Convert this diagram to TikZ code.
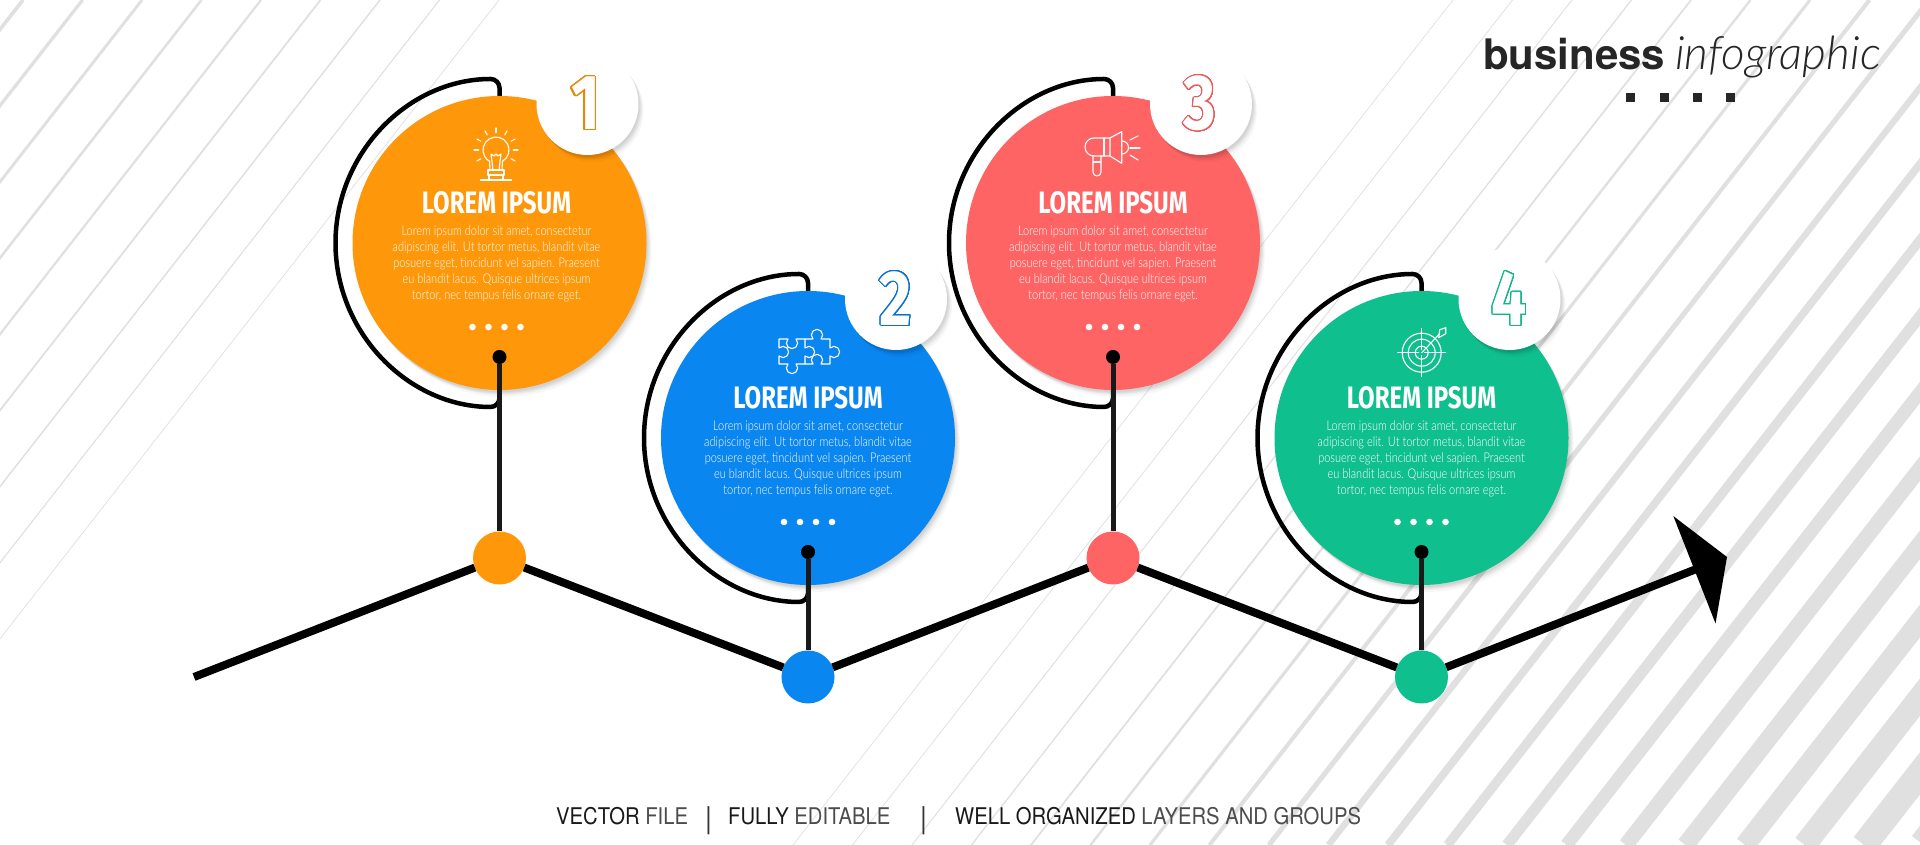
\documentclass[tikz,border=0pt]{standalone}
\usepackage{fontspec}
\usepackage{contour}
\usetikzlibrary{arrows.meta,shadows,backgrounds}
\setmainfont{Lato}
\newfontfamily\headfont[FakeStretch=0.775]{Fira Sans}
\newfontfamily\numfont[FakeStretch=0.8]{Fira Sans}
\newfontfamily\bodyfont[FakeStretch=0.82]{Lato Light}
\newfontfamily\lightfont{Lato Light}
\newfontfamily\titlefont{TeX Gyre Heros}
\newfontfamily\footfont[FakeStretch=0.88]{TeX Gyre Heros}
\contourlength{1.1pt}
\contournumber{32}
\definecolor{orangefill}{HTML}{FF970A}
\definecolor{bluefill}{HTML}{0A86F0}
\definecolor{redfill}{HTML}{FF6464}
\definecolor{greenfill}{HTML}{10BF8E}
\definecolor{stripegray}{HTML}{E0E0E0}
\newcommand{\loremtext}{Lorem ipsum dolor sit amet, consectetur\\adipiscing elit. Ut tortor metus, blandit vitae\\posuere eget, tincidunt vel sapien. Praesent\\eu blandit lacus. Quisque ultrices ipsum\\tortor, nec tempus felis ornare eget.}
\tikzset{
    softshadow/.style={general shadow={shadow xshift=1pt,shadow yshift=-2pt,fill=black,opacity=.04},
        general shadow={shadow xshift=2pt,shadow yshift=-3pt,fill=black,opacity=.04},
        general shadow={shadow xshift=3pt,shadow yshift=-4pt,fill=black,opacity=.04},
        general shadow={shadow xshift=4pt,shadow yshift=-5pt,fill=black,opacity=.03},
        general shadow={shadow xshift=5pt,shadow yshift=-7pt,fill=black,opacity=.03}},
    bubble/.style={circle,minimum size=294pt,inner sep=0pt,outer sep=0pt,softshadow},
    badge/.style={circle,fill=white,minimum size=102pt,inner sep=0pt,outer sep=0pt,softshadow},
    joint/.style={circle,minimum size=53pt,inner sep=0pt,outer sep=0pt},
    stemdot/.style={circle,fill=black,minimum size=14pt,inner sep=0pt,outer sep=0pt},
    stem/.style={line width=5pt,black!90},
    ringline/.style={line width=4.5pt,black,rounded corners=9pt},
    zigzag/.style={line width=8pt,black},
    heading/.style={text=white,font=\headfont\bfseries\fontsize{31}{33}\selectfont},
    bodytext/.style={text=white,align=center,font=\bodyfont\fontsize{13.4}{15.9}\selectfont},
    numlabel/.style={text=white,font=\numfont\bfseries\fontsize{78}{78}\selectfont},
    iconline/.style={draw=white,line width=1.1pt,line join=round,line cap=round},
    foottext/.style={anchor=base west,inner sep=0pt,font=\footfont\fontsize{23}{25}\selectfont},
    footbar/.style={anchor=base west,inner sep=0pt,text=black!80,font=\footfont\fontsize{30}{32}\selectfont},
}
\begin{document}
\begin{tikzpicture}[x=1pt,y=1pt]
    \useasboundingbox (0,0) rectangle (1920,845);
    % circles
    \node[bubble,fill=orangefill](c1) at (499.5,602){};
    \node[bubble,fill=bluefill](c2) at (808,407){};
    \node[bubble,fill=redfill](c3) at (1113,602){};
    \node[bubble,fill=greenfill](c4) at (1421.5,407){};
    \begin{pgfonlayer}{background}
        \fill[white] (0,0) rectangle (1920,845);
        % background stripes
        \begin{scope}
            \clip (0,0) rectangle (1920,845);
            \foreach \k in {0,...,8}
                \draw[stripegray,line width={3.6-0.36*\k}] (23+59.5*\k,845) -- (23+59.5*\k-660,0);
            \foreach \k in {0,...,20}
                \draw[stripegray,line width={0.7+0.06*\k*\k+0.001*\k*\k*\k}] (1453+59.5*\k,845) -- (1453+59.5*\k-660,0);
        \end{scope}
        \draw[ringline](c1.north) -- ++(0,17) arc[start angle=90,end angle=270,radius=164] -- (c1.south);
        \draw[ringline](c2.north) -- ++(0,17) arc[start angle=90,end angle=270,radius=164] -- (c2.south);
        \draw[ringline](c3.north) -- ++(0,17) arc[start angle=90,end angle=270,radius=164] -- (c3.south);
        \draw[ringline](c4.north) -- ++(0,17) arc[start angle=90,end angle=270,radius=164] -- (c4.south);
    \end{pgfonlayer}

    % title
    \node[anchor=base west,inner sep=0pt](title) at (1483,775){\titlefont\bfseries\fontsize{42}{44}\selectfont\color{black!85}business};
    \node[anchor=base west,inner sep=0pt](subtitle) at (1675,775){\lightfont\itshape\fontsize{46}{48}\selectfont\color{black!85}infographic};
    \fill[black!85] (1626,743) rectangle ++(9,9);
    \fill[black!85] (1659.5,743) rectangle ++(9,9);
    \fill[black!85] (1692.5,743) rectangle ++(9,9);
    \fill[black!85] (1725.5,743) rectangle ++(9,9);

    % number badges
    \node[badge](b1) at (587.5,741){};
    \node[badge](b2) at (896,546){};
    \node[badge](b3) at (1201,741){};
    \node[badge](b4) at (1509.5,546){};
    \node[numlabel](n1) at (585.5,741){\contour{orangefill!90!black}{1}};
    \node[numlabel](n2) at (896,546){\contour{bluefill!85!black}{2}};
    \node[numlabel](n3) at (1200,741){\contour{redfill!90!black}{3}};
    \node[numlabel](n4) at (1509.5,546){\contour{greenfill!95!black}{4}};

    % texts
    \node[heading](h1) at (496.5,642){LOREM IPSUM};
    \node[heading](h2) at (808,447){LOREM IPSUM};
    \node[heading](h3) at (1113,642){LOREM IPSUM};
    \node[heading](h4) at (1421.5,447){LOREM IPSUM};
    \node[bodytext](t1) at (496.5,581){\loremtext};
    \node[bodytext](t2) at (808,386){\loremtext};
    \node[bodytext](t3) at (1113,581){\loremtext};
    \node[bodytext](t4) at (1421.5,386){\loremtext};

    % four small dots in each circle
    \foreach \x in {-24,-8,8,24}{
        \fill[white] (496.5+\x,518) circle (3.3);
        \fill[white] (808+\x,323) circle (3.3);
        \fill[white] (1113+\x,518) circle (3.3);
        \fill[white] (1421.5+\x,323) circle (3.3);
    }

    % bulb
    \begin{scope}[shift={(496,695)},iconline]
        \draw (6,-20) -- (6.5,-11.3) arc[start angle=-60,end angle=240,radius=13] -- (-6,-20) -- cycle;
        \draw (-8,-20) rectangle (8,-25);
        \draw (-7,-25) -- (-7,-30);
        \draw (7,-25) -- (7,-30);
        \draw (-15.5,-30) -- (15.5,-30);
        \draw (-3,-20) -- (-5,-4) -- (-2,-6) -- (0,-4) -- (2,-6) -- (5,-4) -- (3,-20);
        \foreach \a in {-30,0,30,60,90,120,150,180,210}
            \draw (\a:17.5) -- (\a:22);
    \end{scope}
    % puzzle
    \begin{scope}[shift={(750,535)},iconline]
        \draw (55,-29) -- (63,-29) arc[start angle=225,end angle=-45,radius=5.66] -- (80,-29) -- (80,-38)
            arc[start angle=135,end angle=-135,radius=5.66] -- (80,-54) -- (71,-54)
            arc[start angle=-45,end angle=225,radius=5.66] -- (55,-54) -- (55,-46)
            arc[start angle=225,end angle=495,radius=5.66] -- cycle;
        \draw (55,-29) -- (46,-29) arc[start angle=45,end angle=-225,radius=5.66] -- (29,-29) -- (29,-38)
            arc[start angle=135,end angle=-135,radius=5.66] -- (29,-54) -- (38,-54)
            arc[start angle=135,end angle=405,radius=5.66] -- (55,-54);
    \end{scope}
    % megaphone
    \begin{scope}[shift={(1060,745)},iconline]
        \draw (50,-38) -- (34,-38) arc[start angle=90,end angle=270,radius=9] -- (50,-56) -- cycle;
        \draw (50,-38) -- (61.7,-31.7) -- (61.7,-63.3) -- (50,-56);
        \draw (44,-38) -- (44,-56);
        \draw (62,-41) arc[start angle=90,end angle=-90,radius=6.5];
        \draw (70,-40) -- (78,-36);
        \draw (70,-48) -- (80,-48);
        \draw (70,-55) -- (78,-60);
        \draw (33,-56) -- (33,-72) arc[start angle=180,end angle=360,radius=4] -- (41,-56);
        \draw (33,-62) -- (41,-62);
    \end{scope}
    % target
    \begin{scope}[shift={(1421.7,492.3)},iconline]
        \draw (0,0) circle (19.5);
        \draw (0,0) circle (13.5);
        \draw (0,0) circle (6.5);
        \draw (-24,0) -- (-3,0);
        \draw (3,0) -- (24,0);
        \draw (0,24) -- (0,3);
        \draw (0,-3) -- (0,-24);
        \draw (0,0) -- (18,19);
        \draw (17,15) -- (18,23) -- (24,25) -- (24,19) -- (17,15);
    \end{scope}

    % joints on the line
    \coordinate (start) at (194,168);
    \coordinate (tip) at (1727,288);
    \node[joint,fill=orangefill](j1) at (499.5,287){};
    \node[joint,fill=bluefill](j2) at (808,168){};
    \node[joint,fill=redfill](j3) at (1113,287){};
    \node[joint,fill=greenfill](j4) at (1421.5,168){};
    \draw[zigzag](start)--(j1);
    \draw[zigzag](j1)--(j2);
    \draw[zigzag](j2)--(j3);
    \draw[zigzag](j3)--(j4);
    \draw[zigzag,-{Triangle[length=35pt,width=114pt]}](j4)--(tip);

    % stems
    \node[stemdot](p1) at (499.5,488){};
    \node[stemdot](p2) at (808,293){};
    \node[stemdot](p3) at (1113,488){};
    \node[stemdot](p4) at (1421.5,293){};
    \draw[stem](p1)--(j1);
    \draw[stem](p2)--(j2);
    \draw[stem](p3)--(j3);
    \draw[stem](p4)--(j4);

    % footer
    \node[foottext](f1) at (556,20){\color{black!90}VECTOR \color{black!70}FILE};
    \node[footbar](s1) at (705,16){|};
    \node[foottext](f2) at (728,20){\color{black!90}FULLY \color{black!70}EDITABLE};
    \node[footbar](s2) at (920,16){|};
    \node[foottext](f3) at (955,20){\color{black!90}WELL ORGANIZED \color{black!70}LAYERS AND GROUPS};
\end{tikzpicture}
\end{document}
